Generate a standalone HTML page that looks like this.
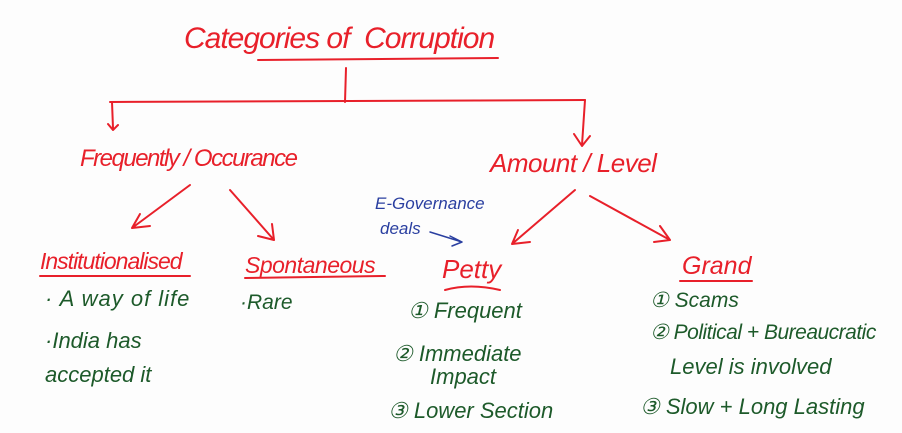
<!DOCTYPE html>
<html><head><meta charset="utf-8"><style>
html,body{margin:0;padding:0;background:#fff;}
#c{position:relative;width:902px;height:433px;overflow:hidden;background:#fdfdfd;font-family:"Liberation Sans",sans-serif;font-style:italic;}
.t{position:absolute;white-space:nowrap;line-height:1;}
.r{color:#e8202a;}
.g{color:#1d5a2a;}
.b{color:#2a3fa0;}
svg{position:absolute;left:0;top:0;}
</style></head><body><div id="c">
<svg width="902" height="433" fill="none" stroke-linecap="round" stroke-linejoin="round">
<g stroke="#e8202a" stroke-width="2">
<path d="M258 60 L498 58"/>
<path d="M346 68 L345 102"/>
<path d="M110 102 L585 100"/>
<path d="M112 102 L113 128 M108 124 L113 130 L118 125"/>
<path d="M585 100 L582 145 M574 134 L582 146 L590 136"/>
<path d="M190 185 L132 228 M132 228 L150 226 M132 228 L140 214"/>
<path d="M230 190 L274 240 M274 240 L258 236 M274 240 L272 224"/>
<path d="M575 190 L512 244 M512 244 L530 242 M512 244 L518 230"/>
<path d="M590 196 L670 240 M670 240 L654 242 M670 240 L660 226"/>
<path d="M40 276 L190 276"/>
<path d="M245 278 L385 276"/>
<path d="M445 290 Q470 283 500 290"/>
<path d="M680 281 L752 281"/>
</g>
<g stroke="#2a3fa0" stroke-width="1.5">
<path d="M430 232 L462 242 M462 242 L450 236 M462 242 L452 246"/>
</g>
</svg>
<div class="t r" style="left:184px;top:24px;font-size:30px;letter-spacing:-1px">Categories of &nbsp;Corruption</div>
<div class="t r" style="left:80px;top:147px;font-size:24px;letter-spacing:-1.5px">Frequently / Occurance</div>
<div class="t r" style="left:490px;top:150px;font-size:26px;letter-spacing:-0.5px">Amount / Level</div>
<div class="t b" style="left:375px;top:195px;font-size:17px">E-Governance</div>
<div class="t b" style="left:380px;top:220px;font-size:17px">deals</div>
<div class="t r" style="left:40px;top:250px;font-size:23px;letter-spacing:-1px">Institutionalised</div>
<div class="t r" style="left:245px;top:254px;font-size:23px;letter-spacing:-0.5px">Spontaneous</div>
<div class="t r" style="left:442px;top:256px;font-size:26px">Petty</div>
<div class="t r" style="left:682px;top:254px;font-size:25px">Grand</div>
<div class="t g" style="left:45px;top:288px;font-size:22px;letter-spacing:1px">· A way of life</div>
<div class="t g" style="left:45px;top:330px;font-size:22px">·India has</div>
<div class="t g" style="left:45px;top:364px;font-size:22px">accepted it</div>
<div class="t g" style="left:240px;top:292px;font-size:21px">·Rare</div>
<div class="t g" style="left:408px;top:300px;font-size:22px">① Frequent</div>
<div class="t g" style="left:393px;top:343px;font-size:22px">② Immediate</div>
<div class="t g" style="left:430px;top:366px;font-size:22px">Impact</div>
<div class="t g" style="left:388px;top:400px;font-size:22px">③ Lower Section</div>
<div class="t g" style="left:650px;top:290px;font-size:21px">① Scams</div>
<div class="t g" style="left:650px;top:322px;font-size:21px;letter-spacing:-0.5px">② Political + Bureaucratic</div>
<div class="t g" style="left:670px;top:356px;font-size:22px">Level is involved</div>
<div class="t g" style="left:640px;top:396px;font-size:22px">③ Slow + Long Lasting</div>
</div></body></html>
